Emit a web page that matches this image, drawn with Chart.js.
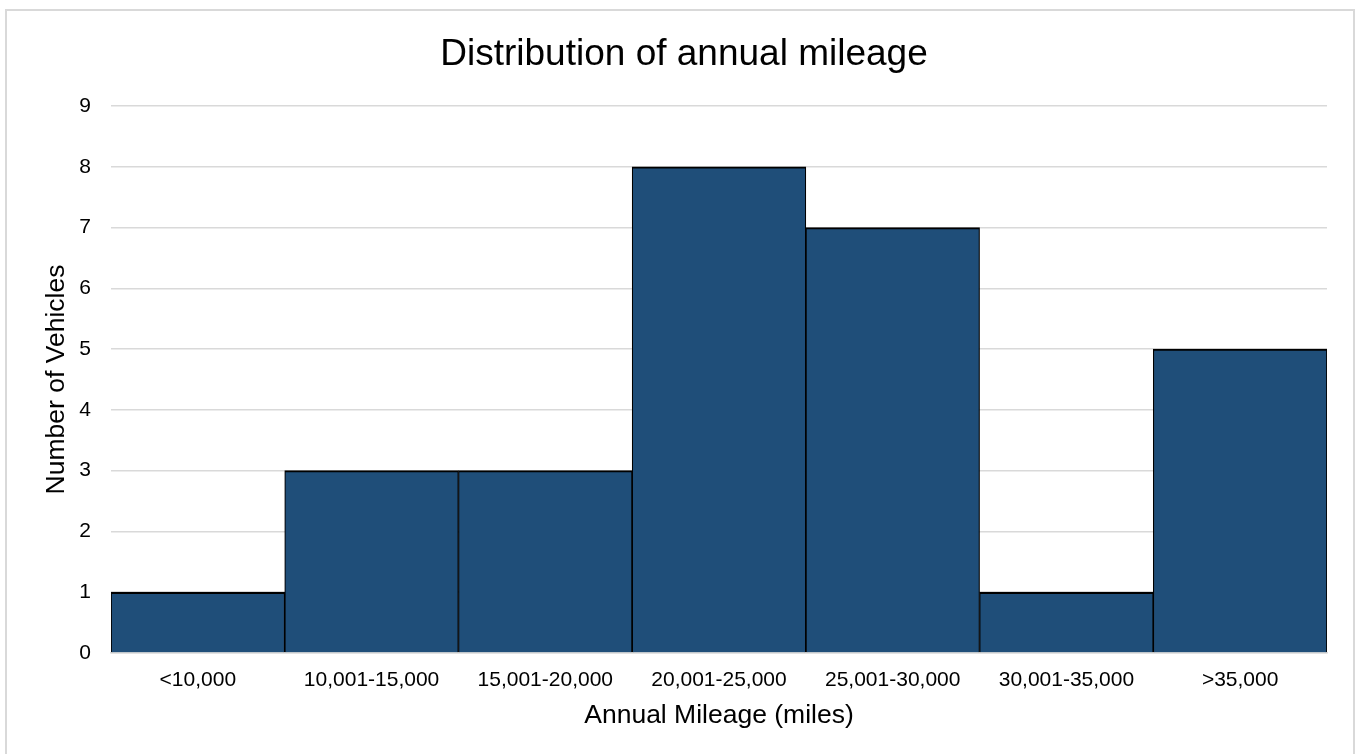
<!DOCTYPE html>
<html lang="en">
<head>
<meta charset="UTF-8">
<title>Distribution of annual mileage</title>
<script src="https://cdn.jsdelivr.net/npm/chart.js"></script>
<style>
    html, body { margin: 0; padding: 0; background: #fff; overflow: hidden; }
    .frame {
        position: absolute;
        left: 5px; top: 9px;
        width: 1350px; height: 760px;
        border: 2px solid #d9d9d9;
        box-sizing: border-box;
    }
    .chart-container { position: absolute; left: 0; top: 0; width: 1362px; height: 754px; }
</style>
</head>
<body>
<div class="frame"></div>
<div class="chart-container">
    <canvas id="mileageChart" width="1362" height="754"></canvas>
</div>
<script>
// mileage bands and vehicle counts
const mileageBands = ['<10,000', '10,001-15,000', '15,001-20,000', '20,001-25,000', '25,001-30,000', '30,001-35,000', '>35,000'];
const vehicleCounts = [1, 3, 3, 8, 7, 1, 5];
const yTicks = [0, 1, 2, 3, 4, 5, 6, 7, 8, 9];

const fontFamily = '"Liberation Sans", Arial, sans-serif';
Chart.defaults.font.family = fontFamily;
Chart.defaults.color = '#000';

const ctx = document.getElementById('mileageChart').getContext('2d');

new Chart(ctx, {
    type: 'bar',
    data: {
        labels: mileageBands,
        datasets: [{
            label: 'Number of Vehicles',
            data: vehicleCounts,
            backgroundColor: '#1f4e79',
            borderColor: '#000',
            borderWidth: { top: 2, left: 1.2, right: 1.2, bottom: 0 },
            borderSkipped: false,
            barPercentage: 1,
            categoryPercentage: 1
        }]
    },
    options: {
        responsive: false,
        animation: false,
        layout: { padding: { left: 41, right: 35, top: 0, bottom: 0 } },
        plugins: {
            legend: { display: false },
            tooltip: { enabled: false },
            title: {
                display: true,
                text: 'Distribution of annual mileage',
                font: { size: 37, weight: 'normal' },
                padding: { top: 33, bottom: 28.6 }
            }
        },
        scales: {
            x: {
                grid: { display: false, drawTicks: false },
                border: { display: true, color: '#d9d9d9', width: 1.5 },
                ticks: { font: { size: 21 }, padding: 15, maxRotation: 0, autoSkip: false },
                title: {
                    display: true,
                    text: 'Annual Mileage (miles)',
                    font: { size: 26.5 },
                    padding: { top: 0, bottom: 22 }
                },
                afterFit: scale => { scale.height = 101; }
            },
            y: {
                min: 0,
                max: 9,
                afterBuildTicks: scale => { scale.ticks = yTicks.map(v => ({ value: v })); },
                grid: { color: '#d9d9d9', lineWidth: 1.5, drawTicks: false },
                border: { display: false },
                ticks: { font: { size: 21 }, padding: 20 },
                title: {
                    display: true,
                    text: 'Number of Vehicles',
                    font: { size: 26.5 },
                    padding: { top: 0, bottom: 0 }
                },
                afterFit: scale => { scale.width = 70; }
            }
        }
    }
});
</script>
</body>
</html>
